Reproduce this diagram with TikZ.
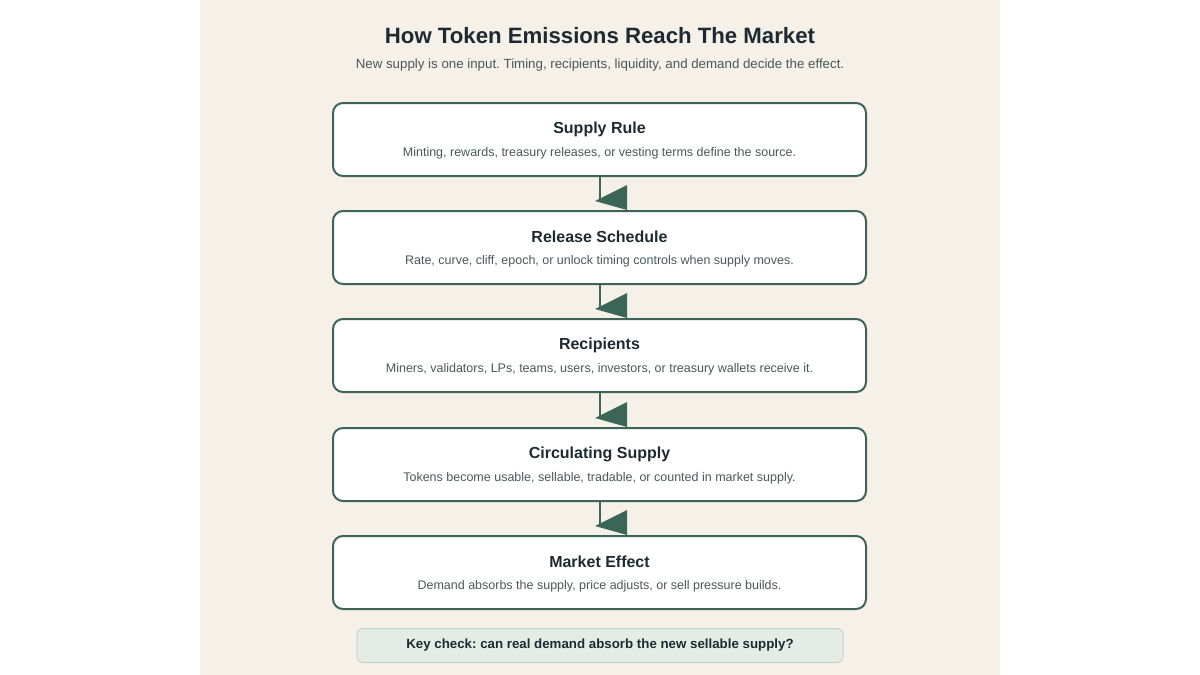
\documentclass[tikz,border=0pt]{standalone}
\usepackage{fontspec}
\setmainfont{Liberation Sans}
\usetikzlibrary{calc}
\frenchspacing
\definecolor{pagebg}{HTML}{F5F0E8}
\definecolor{boxline}{HTML}{3E6358}
\definecolor{arrowfill}{HTML}{3B6657}
\definecolor{titletext}{HTML}{1E2A32}
\definecolor{subtext}{HTML}{4B5858}
\definecolor{keyfill}{HTML}{E4EDE5}
\definecolor{keyline}{HTML}{C9D2C9}
\tikzset{
  stagebox/.style={draw=boxline, line width=2pt, fill=white, rounded corners=10pt,
    minimum width=533pt, minimum height=73pt, inner sep=0pt},
  stagetitle/.style={font=\bfseries\fontsize{16}{19}\selectfont, text=titletext},
  stagedesc/.style={font=\fontsize{12.5}{15}\selectfont, text=subtext},
  flowline/.style={draw=boxline, line width=2pt},
  flowhead/.style={fill=arrowfill, draw=none},
}
\begin{document}
\begin{tikzpicture}[x=1pt,y=-1pt]
\useasboundingbox (0,0) rectangle (1200,675);
\fill[white] (0,0) rectangle (1200,675);
\fill[pagebg] (200,0) rectangle (1000,675);
\node[font=\bfseries\fontsize{22.2}{26}\selectfont, text=titletext] (title) at (600,36) {How Token Emissions Reach The Market};
\node[font=\fontsize{13.3}{16}\selectfont, text=subtext] (subtitle) at (600,65.5) {New supply is one input. Timing, recipients, liquidity, and demand decide the effect.};

\foreach \i/\y/\t/\d in {
  1/139.5/Supply Rule/{Minting, rewards, treasury releases, or vesting terms define the source.},
  2/247.5/Release Schedule/{Rate, curve, cliff, epoch, or unlock timing controls when supply moves.},
  3/355.5/Recipients/{Miners, validators, LPs, teams, users, investors, or treasury wallets receive it.},
  4/464.5/Circulating Supply/{Tokens become usable, sellable, tradable, or counted in market supply.},
  5/572.5/Market Effect/{Demand absorbs the supply, price adjusts, or sell pressure builds.}} {
  \node[stagebox] (b\i) at (599.5,\y) {};
  \node[stagetitle] (t\i) at ($(b\i.north)+(0,27)$) {\t};
  \node[stagedesc] (d\i) at ($(b\i.north)+(0,51.5)$) {\d};
}

\foreach \a/\b in {1/2,2/3,3/4,4/5} {
  \draw[flowline] (b\a.south) -- ($(b\b.north)+(0,-9)$);
  \fill[flowhead] ($(b\b.north)+(-4.5,-9)$) -- ($(b\b.north)+(27.5,-25)$) -- ($(b\b.north)+(27.5,0)$) -- cycle;
}

\node[draw=keyline, line width=1pt, fill=keyfill, rounded corners=6pt, minimum width=486pt, minimum height=34pt,
  font=\bfseries\fontsize{13.3}{16}\selectfont, text=titletext] (key) at (600,645.5) {Key check: can real demand absorb the new sellable supply?};
\end{tikzpicture}
\end{document}
